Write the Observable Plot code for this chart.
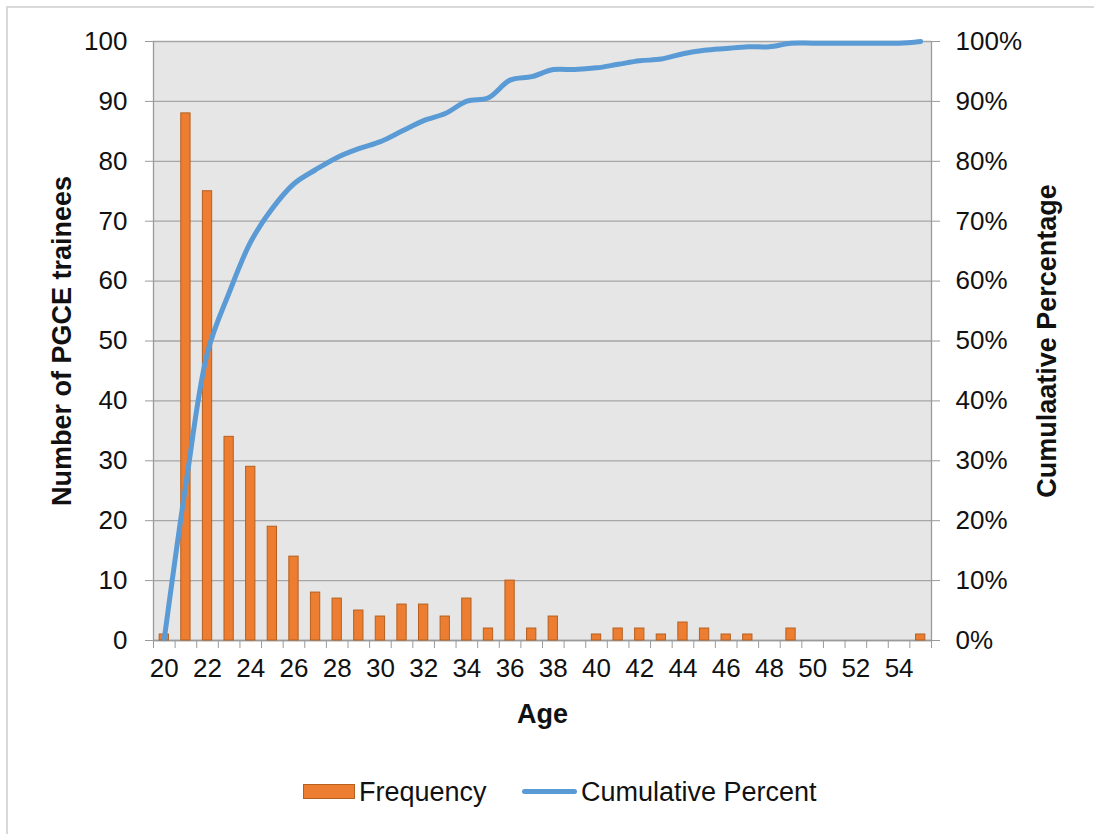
<!DOCTYPE html>
<html>
<head>
<meta charset="utf-8">
<script src="https://cdn.jsdelivr.net/npm/d3@7"></script>
<script src="https://cdn.jsdelivr.net/npm/@observablehq/plot@0.6"></script>
<style>
  html, body { margin: 0; padding: 0; background: #fff; }
  #wrap { position: relative; width: 1094px; height: 834px; overflow: hidden; font-family: "Liberation Sans", Arial, sans-serif; }
  #border { position: absolute; left: 6px; top: 6px; width: 1200px; height: 900px; border-left: 2px solid #d9d9d9; border-top: 2px solid #d9d9d9; }
  #chart { position: absolute; left: 0; top: 0; }
  #chart svg text { fill: #111; }
  #chart g[aria-label="y-axis label"] text, #chart g[aria-label="x-axis label"] text { font-weight: bold; font-size: 27px; }
  #legend { position: absolute; top: 776px; left: 0; width: 1094px; height: 32px; font-size: 27px; color: #111; }
  .sw-bar { position: absolute; left: 303px; top: 8px; width: 50px; height: 13px; background: #ED7D31; border: 1px solid #B5601F; }
  .sw-line { position: absolute; left: 522px; top: 13px; width: 55px; height: 5px; border-radius: 3px; background: #5B9BD5; }
  .lab { position: absolute; top: 0; line-height: 32px; white-space: nowrap; }
</style>
</head>
<body>
<div id="wrap">
  <div id="border"></div>
  <div id="chart"></div>
  <div id="legend">
    <div class="sw-bar"></div><div class="lab" style="left:359px">Frequency</div>
    <div class="sw-line"></div><div class="lab" style="left:581px">Cumulative Percent</div>
  </div>
</div>
<script>
// Ages (categories)
const ages = [20,21,22,23,24,25,26,27,28,29,30,31,32,33,34,35,36,37,38,39,40,41,42,43,44,45,46,47,48,49,50,51,52,53,54,55];
// Frequency (number of PGCE trainees)
const frequency = [1,88,75,34,29,19,14,8,7,5,4,6,6,4,7,2,10,2,4,0,1,2,2,1,3,2,1,1,0,2,0,0,0,0,0,1];
// Cumulative percent
const cumulativePercent = [0.29,26.10,48.09,58.06,66.57,72.14,76.25,78.59,80.65,82.11,83.28,85.04,86.80,87.98,90.03,90.62,93.55,94.13,95.31,95.31,95.60,96.19,96.77,97.07,97.95,98.53,98.83,99.12,99.12,99.71,99.71,99.71,99.71,99.71,99.71,100];
// Tick labels
const xTickLabels = [20,22,24,26,28,30,32,34,36,38,40,42,44,46,48,50,52,54];
const yTicks = [0,10,20,30,40,50,60,70,80,90,100];

const data = ages.map((a, i) => ({age: a, freq: frequency[i], cum: cumulativePercent[i]}));

const W = 1094, H = 740;
const mL = 153, mR = 163, mT = 41, mB = 100;
const step = (W - mL - mR) / ages.length;
const grayAxis = "#9a9a9a";

const plot = Plot.plot({
  width: W, height: H,
  marginLeft: mL, marginRight: mR, marginTop: mT, marginBottom: mB,
  style: {fontFamily: "'Liberation Sans', Arial, sans-serif", fontSize: "26px", background: "transparent", color: "#111"},
  x: {type: "band", domain: ages, paddingInner: 0.57, paddingOuter: 0.285, round: false},
  y: {domain: [0, 100]},
  marks: [
    Plot.frame({fill: "#e6e6e6", stroke: null}),
    Plot.gridY(yTicks, {stroke: "#a6a6a6", strokeOpacity: 1, strokeWidth: 1.3}),
    Plot.ruleX([ages[0]], {stroke: grayAxis, strokeWidth: 1.3, dx: -step / 2}),
    Plot.ruleX([ages[ages.length - 1]], {stroke: grayAxis, strokeWidth: 1.3, dx: step / 2}),
    Plot.ruleY([0], {stroke: grayAxis, strokeWidth: 1.3}),
    Plot.barY(data, {x: "age", y: "freq", fill: "#ED7D31", stroke: "#B5601F", strokeWidth: 1}),
    Plot.line(data, {x: "age", y: "cum", stroke: "#5B9BD5", strokeWidth: 5, curve: "catmull-rom", strokeLinecap: "round"}),
    // left axis
    Plot.axisY(yTicks, {anchor: "left", tickSize: 8, tickPadding: 18, stroke: grayAxis, label: "Number of PGCE trainees", labelArrow: false, labelAnchor: "center", labelOffset: 102}),
    // right axis
    Plot.axisY(yTicks, {anchor: "right", tickSize: 8, tickPadding: 16, stroke: grayAxis, tickFormat: d => d + "%", label: "Cumulaative Percentage", labelArrow: false, labelAnchor: "center", labelOffset: 124}),
    // x tick marks at band boundaries
    Plot.axisX(ages, {tickSize: 8, tickFormat: () => "", stroke: grayAxis, dx: -step / 2, label: null}),
    Plot.axisX([ages[ages.length - 1]], {tickSize: 8, tickFormat: () => "", stroke: grayAxis, dx: step / 2, label: null}),
    // x tick labels
    Plot.axisX(xTickLabels, {tickSize: 0, tickPadding: 18, label: "Age", labelArrow: false, labelAnchor: "center", labelOffset: 82})
  ]
});
// strip any label arrows if the library version added them
plot.querySelectorAll("text").forEach(t => {
  if (/[↑↓←→]/.test(t.textContent)) {
    t.querySelectorAll("tspan").forEach(s => { if (/^[\s↑↓←→]+$/.test(s.textContent)) s.remove(); });
    if (/[↑↓←→]/.test(t.textContent)) t.textContent = t.textContent.replace(/\s*[↑↓←→]\s*/g, "");
  }
});
document.getElementById("chart").appendChild(plot);
</script>
</body>
</html>
